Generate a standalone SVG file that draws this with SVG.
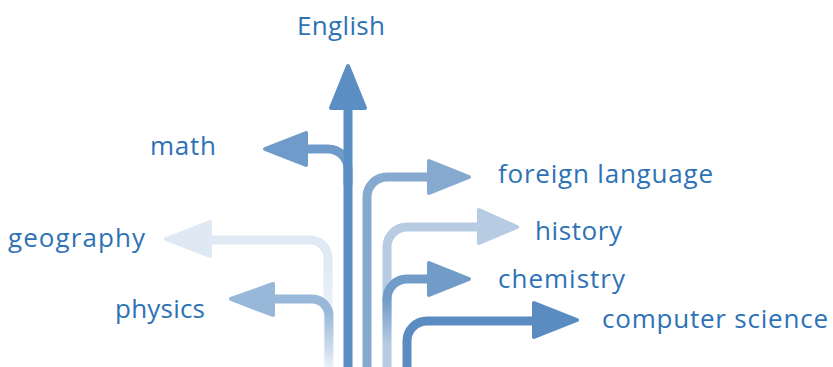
<svg xmlns="http://www.w3.org/2000/svg" width="833" height="367" viewBox="0 0 833 367">
<style>
.lbl{font-family:"Open Sans",Lato,"Liberation Sans",sans-serif;font-size:26px;fill:#2e72b6}
.ln{fill:none;stroke-width:9;stroke-linecap:butt}
.hd{stroke-width:4;stroke-linejoin:round}
</style>
<defs>
<linearGradient id="gGeo" gradientUnits="userSpaceOnUse" x1="0" y1="260" x2="0" y2="367">
<stop offset="0" stop-color="#dfe9f3"/><stop offset="1" stop-color="#dfe9f3" stop-opacity="0.2"/>
</linearGradient>
<linearGradient id="gPhy" gradientUnits="userSpaceOnUse" x1="0" y1="310" x2="0" y2="367">
<stop offset="0" stop-color="#97b8d9"/><stop offset="1" stop-color="#97b8d9" stop-opacity="0.15"/>
</linearGradient>
<linearGradient id="gChem" gradientUnits="userSpaceOnUse" x1="0" y1="300" x2="0" y2="345">
<stop offset="0" stop-color="#729cc8"/><stop offset="1" stop-color="#729cc8" stop-opacity="0"/>
</linearGradient>
</defs>
<rect width="833" height="367" fill="#ffffff"/>
<g id="connectors">
<path class="ln" stroke="url(#gGeo)" d="M210 240 H310 A18 18 0 0 1 328 258 V367"/>
<polygon class="hd" fill="#dfe9f3" stroke="#dfe9f3" points="166,239 210,222 210,256"/>
<path class="ln" stroke="url(#gPhy)" d="M273 299 H312 A17 17 0 0 1 329 316 V367"/>
<polygon class="hd" fill="#97b8d9" stroke="#97b8d9" points="231,299 273,284 273,315"/>
<path class="ln" stroke="#b7cce3" d="M387 367 V247 A20 20 0 0 1 407 227 H479"/>
<polygon class="hd" fill="#b7cce3" stroke="#b7cce3" points="479,210 517,227 479,243"/>
<path class="ln" stroke="#86a9cf" d="M367 367 V197 A20 20 0 0 1 387 177 H429"/>
<polygon class="hd" fill="#86a9cf" stroke="#86a9cf" points="429,161 469,177 429,193"/>
<path class="ln" stroke="url(#gChem)" d="M387 345 V298"/>
<path class="ln" stroke="#729cc8" d="M387 299 A20 20 0 0 1 407 279 H429"/>
<polygon class="hd" fill="#729cc8" stroke="#729cc8" points="429,263 469,279 429,295"/>
<path class="ln" stroke="#5a8cc1" d="M407 367 V341 A20 20 0 0 1 427 321 H534"/>
<polygon class="hd" fill="#5a8cc1" stroke="#5a8cc1" points="534,303 577,320 534,337"/>
<path class="ln" stroke="#6e9bc9" d="M306 149 H328 A20 20 0 0 1 348 169 V185"/>
<polygon class="hd" fill="#6e9bc9" stroke="#6e9bc9" points="265,149 306,133 306,165"/>
<path class="ln" stroke="#5b8ec3" d="M348 108 V367"/>
<polygon class="hd" fill="#5b8ec3" stroke="#5b8ec3" points="348,66 331,108 365,108"/>
</g>
<g id="english"><text class="lbl" x="297" y="35" textLength="88">English</text></g>
<g id="math"><text class="lbl" x="150" y="155" textLength="66">math</text></g>
<g id="foreign-language"><text class="lbl" x="498" y="183" textLength="215">foreign language</text></g>
<g id="geography"><text class="lbl" x="8" y="247" textLength="137">geography</text></g>
<g id="history"><text class="lbl" x="535" y="240" textLength="87">history</text></g>
<g id="chemistry"><text class="lbl" x="498" y="288" textLength="127">chemistry</text></g>
<g id="physics"><text class="lbl" x="115" y="318" textLength="90">physics</text></g>
<g id="computer-science"><text class="lbl" x="602" y="328" textLength="226">computer science</text></g>
</svg>
